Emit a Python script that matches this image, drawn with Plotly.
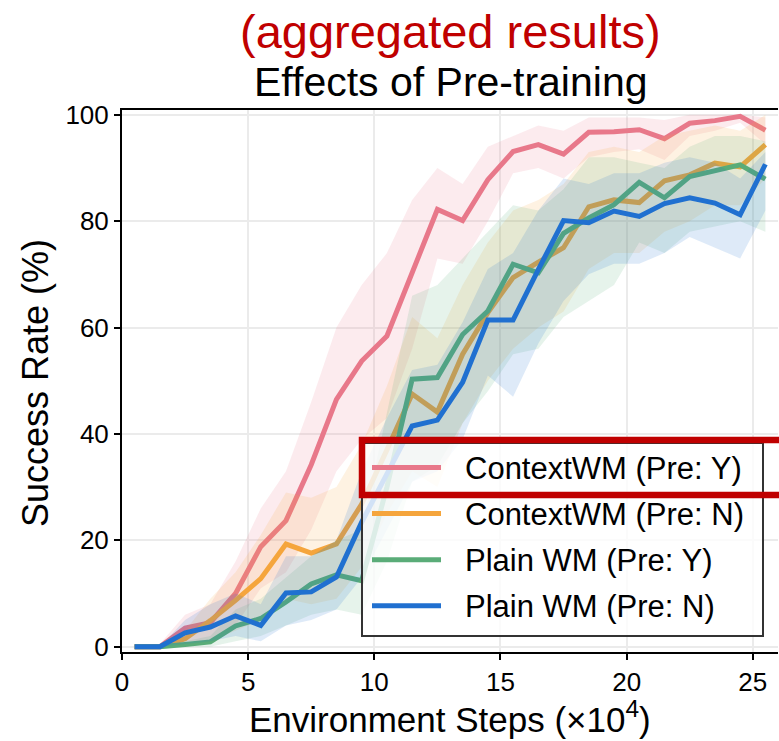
import plotly.graph_objects as go

# ---------------- data ----------------
steps = [0.5, 1.5, 2.5, 3.5, 4.5, 5.5, 6.5, 7.5, 8.5, 9.5, 10.5, 11.5, 12.5,
         13.5, 14.5, 15.5, 16.5, 17.5, 18.5, 19.5, 20.5, 21.5, 22.5, 23.5, 24.5, 25.5]

series_names = ["ContextWM (Pre: Y)", "ContextWM (Pre: N)", "Plain WM (Pre: Y)", "Plain WM (Pre: N)"]

ctx_pre_y = [0, 0, 3.5, 4.5, 10.0, 18.8, 23.7, 34.2, 46.5, 53.7, 58.4, 70.0, 82.2,
             80.1, 87.8, 93.1, 94.4, 92.6, 96.7, 96.8, 97.2, 95.5, 98.4, 98.9, 99.7, 97.1]
ctx_pre_y_lo = [0, 0, 1, 1, 4, 11, 14, 22, 33, 39, 43, 56, 73,
                72, 80, 89, 90, 88, 92, 93, 93.5, 91.5, 96, 97, 98.5, 94.5]
ctx_pre_y_hi = [0, 0.5, 6, 8, 16, 26, 33, 46, 60, 68, 74, 84, 90,
                87, 94, 96, 98, 97, 99.5, 99.5, 99.5, 99, 100, 100, 100, 99.5]

ctx_pre_n = [0, 0, 1.5, 4.9, 8.7, 12.8, 19.3, 17.6, 19.3, 26.8, 37.0, 47.5, 44.1,
             55.0, 62.8, 69.4, 72.3, 75.0, 82.7, 84.0, 83.5, 87.6, 88.7, 90.9, 90.2, 94.4]
ctx_pre_n_lo = [0, 0, 0, 1, 3, 5, 9, 8, 9, 15, 25, 33, 30,
                42, 50, 56, 60, 63, 71, 74, 74, 78, 80, 83, 83, 88]
ctx_pre_n_hi = [0, 0, 3, 9, 14, 21, 29, 28, 30, 38, 49, 62, 58,
                68, 76, 82, 84, 87, 93, 94, 93, 96, 97, 98, 97, 100]

plain_pre_y = [0, 0, 0.4, 0.9, 3.9, 5.3, 8.4, 11.8, 13.5, 12.4, 30.0, 50.3, 50.6,
               58.7, 63.1, 71.9, 70.3, 77.7, 80.6, 83.1, 87.3, 84.4, 88.4, 89.4, 90.6, 87.9]
plain_pre_y_lo = [0, 0, 0, 0, 1, 2, 4, 6, 7, 6, 16, 31, 34,
                  42, 48, 55, 56, 62, 65, 68, 76, 74, 78, 79, 80, 78]
plain_pre_y_hi = [0, 0, 1, 2, 7, 9, 13, 17, 20, 22, 44, 66, 68,
                  73, 78, 83, 82, 86, 92, 92, 91, 90, 94, 96, 96, 95]

plain_pre_n = [0, 0, 2.6, 3.7, 5.8, 4.0, 10.1, 10.3, 13.1, 23.4, 32.5, 41.5, 42.6,
               49.7, 61.4, 61.4, 70.9, 80.1, 79.7, 81.9, 80.9, 83.3, 84.4, 83.4, 81.2, 90.7]
plain_pre_n_lo = [0, 0, 0.5, 1, 2, 1, 4, 5, 7, 13, 22, 31, 33,
                  39, 51, 47, 57, 65, 70, 72, 72, 74, 77, 75, 73, 82]
plain_pre_n_hi = [0, 0, 5, 8, 10, 8, 17, 17, 20, 33, 43, 52, 53,
                  61, 71, 74, 82, 88, 87, 89, 89, 91, 92, 91, 88, 93]

x_ticks = [0, 5, 10, 15, 20, 25]
y_ticks = [0, 20, 40, 60, 80, 100]

# ---------------- styling ----------------
colors = [(232, 120, 138), (245, 165, 60), (90, 172, 120), (32, 112, 208)]
FONT = "Liberation Sans, Arial, Helvetica, sans-serif"

W, H = 779, 741
ML, MR, MT, MB = 122, 1, 110, 89
PW, PH = W - ML - MR, H - MT - MB


def px2x(px):
    return (px - ML) / PW


def py2y(py):
    return (H - MB - py) / PH


means = [ctx_pre_y, ctx_pre_n, plain_pre_y, plain_pre_n]
lows = [ctx_pre_y_lo, ctx_pre_n_lo, plain_pre_y_lo, plain_pre_n_lo]
highs = [ctx_pre_y_hi, ctx_pre_n_hi, plain_pre_y_hi, plain_pre_n_hi]

fig = go.Figure()
for name, m, lo, hi, c in zip(series_names, means, lows, highs, colors):
    rgb = "rgb(%d,%d,%d)" % c
    rgba = "rgba(%d,%d,%d,0.15)" % c
    fig.add_trace(go.Scatter(x=steps, y=hi, mode="lines", line=dict(width=0),
                             showlegend=False, hoverinfo="skip"))
    fig.add_trace(go.Scatter(x=steps, y=lo, mode="lines", line=dict(width=0),
                             fill="tonexty", fillcolor=rgba,
                             showlegend=False, hoverinfo="skip"))
    fig.add_trace(go.Scatter(x=steps, y=m, mode="lines", name=name,
                             line=dict(color=rgb, width=5), showlegend=False))

shapes = []
annotations = []

# manual legend
leg_left, leg_right, leg_top, leg_bottom = 362, 763, 443, 636
shapes.append(dict(type="rect", xref="paper", yref="paper",
                   x0=px2x(leg_left), x1=px2x(leg_right),
                   y0=py2y(leg_bottom), y1=py2y(leg_top),
                   line=dict(color="#333333", width=2),
                   fillcolor="rgba(255,255,255,0.8)", layer="above"))
first_row, row_gap = 467.5, 46.1
for i, (name, c) in enumerate(zip(series_names, colors)):
    yc = first_row + i * row_gap
    shapes.append(dict(type="line", xref="paper", yref="paper",
                       x0=px2x(372), x1=px2x(441), y0=py2y(yc), y1=py2y(yc),
                       line=dict(color="rgb(%d,%d,%d)" % c, width=5), layer="above"))
    annotations.append(dict(text=name, xref="paper", yref="paper",
                            x=px2x(463), y=py2y(yc + 1), xanchor="left", yanchor="middle",
                            showarrow=False, font=dict(size=31, color="black", family=FONT)))

# highlight rectangle
shapes.append(dict(type="rect", xref="paper", yref="paper",
                   x0=px2x(362), x1=px2x(800), y0=py2y(495), y1=py2y(440),
                   line=dict(color="#C00000", width=6.5), fillcolor="rgba(0,0,0,0)",
                   layer="above"))

# titles
annotations.append(dict(text="(aggregated results)", xref="paper", yref="paper",
                        x=0.5, y=py2y(32), xanchor="center", yanchor="middle",
                        showarrow=False, font=dict(size=47, color="#C00000", family=FONT)))
annotations.append(dict(text="Effects of Pre-training", xref="paper", yref="paper",
                        x=0.5, y=py2y(82), xanchor="center", yanchor="middle",
                        showarrow=False, font=dict(size=41, color="black", family=FONT)))
annotations.append(dict(text="Environment Steps (×10<sup>4</sup>)", xref="paper", yref="paper",
                        x=0.5, y=py2y(717), xanchor="center", yanchor="middle",
                        showarrow=False, font=dict(size=35, color="black", family=FONT)))
annotations.append(dict(text="Success Rate (%)", xref="paper", yref="paper",
                        x=px2x(35), y=py2y(383), xanchor="center", yanchor="middle",
                        textangle=-90, showarrow=False,
                        font=dict(size=36, color="black", family=FONT)))

axis_common = dict(showline=True, linecolor="black", linewidth=2,
                   ticks="outside", ticklen=6, tickwidth=2, tickcolor="black",
                   showgrid=True, gridcolor="#ebebeb", gridwidth=1.5,
                   zeroline=False, fixedrange=True)

fig.update_layout(
    width=W, height=H,
    margin=dict(l=ML, r=MR, t=MT, b=MB, pad=0),
    paper_bgcolor="white", plot_bgcolor="white",
    font=dict(family=FONT, color="black"),
    showlegend=False,
    xaxis=dict(range=[0, 26], tickvals=x_ticks, mirror=True,
               tickfont=dict(size=26, family=FONT, color="black"), **axis_common),
    yaxis=dict(range=[-1, 100.9], tickvals=y_ticks, mirror=False,
               tickfont=dict(size=26, family=FONT, color="black"), **axis_common),
    shapes=shapes,
    annotations=annotations,
)

fig.write_html("out.html")
